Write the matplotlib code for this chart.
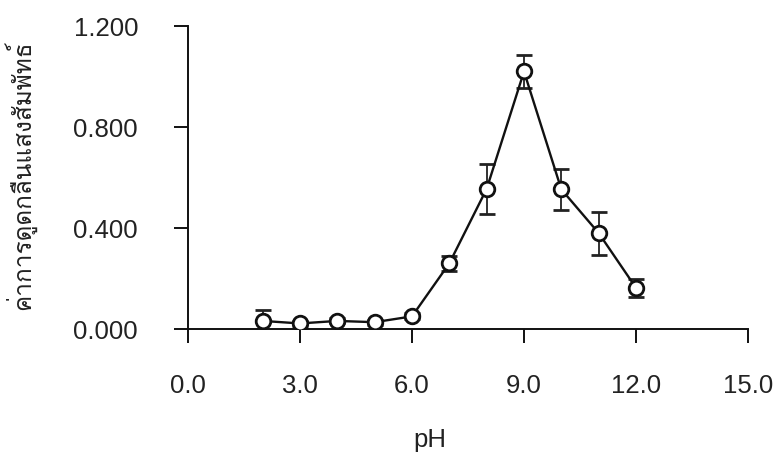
import matplotlib
matplotlib.use("Agg")
import matplotlib.pyplot as plt
from matplotlib import font_manager
from matplotlib.ft2font import FT2Font

ph = [2, 3, 4, 5, 6, 7, 8, 9, 10, 11, 12]
absorbance = [0.032, 0.022, 0.032, 0.027, 0.05, 0.26, 0.555, 1.02, 0.553, 0.38, 0.163]
err = [0.045, 0.01, 0.01, 0.01, 0.012, 0.03, 0.1, 0.065, 0.08, 0.085, 0.035]
xticks = [0, 3, 6, 9, 12, 15]
yticks = [0.0, 0.4, 0.8, 1.2]
ylabel = "ค่าการดูดกลืนแสงสัมพัทธ์"
xlabel = "pH"

# find a font with Thai glyphs
thai_font = None
for f in font_manager.fontManager.ttflist:
    try:
        ft = FT2Font(f.fname)
        if 0x0E01 in ft.get_charmap():
            thai_font = f.name
            break
    except Exception:
        pass

plt.rcParams['font.family'] = ['Liberation Sans', 'DejaVu Sans']

fig = plt.figure(figsize=(7.78, 4.64), dpi=100)
ax = fig.add_axes([188/778, 1-330/464, 560/778, 303/464])

ax.errorbar(ph, absorbance, yerr=err, color='#111111', lw=1.7,
            marker='o', markersize=10.5, markerfacecolor='white',
            markeredgecolor='#111111', markeredgewidth=2.0,
            ecolor='#222222', elinewidth=1.3, capsize=5.5, capthick=1.3, zorder=3)

ax.set_xlim(0, 15)
ax.set_ylim(0, 1.2)
ax.set_xticks(xticks)
ax.set_xticklabels([f"{v:.1f}" for v in xticks])
ax.set_yticks(yticks)
ax.set_yticklabels([f"{v:.3f}" for v in yticks])
for s in ['top', 'right']:
    ax.spines[s].set_visible(False)
for s in ['left', 'bottom']:
    ax.spines[s].set_linewidth(1.4)
    ax.spines[s].set_color('#111111')
ax.tick_params(axis='x', direction='out', length=10, width=1.4, pad=22,
               labelsize=18.5, colors='#111111', labelcolor='#222222')
ax.tick_params(axis='y', direction='out', length=10, width=1.4, pad=26,
               labelsize=18.5, colors='#111111', labelcolor='#222222')

ax.set_xlabel(xlabel, fontsize=18.5, color='#222222')
ax.xaxis.set_label_coords(0.432, -0.363)
ax.xaxis.label.set_va('center')

fam = [thai_font, 'DejaVu Sans'] if thai_font else ['DejaVu Sans']
ax.set_ylabel(ylabel, fontsize=17.5, color='#222222', family=fam)
ax.yaxis.set_label_coords(-0.30, 0.51)
ax.yaxis.label.set_va('center')

fig.savefig("out.png", dpi=100, facecolor='white')
